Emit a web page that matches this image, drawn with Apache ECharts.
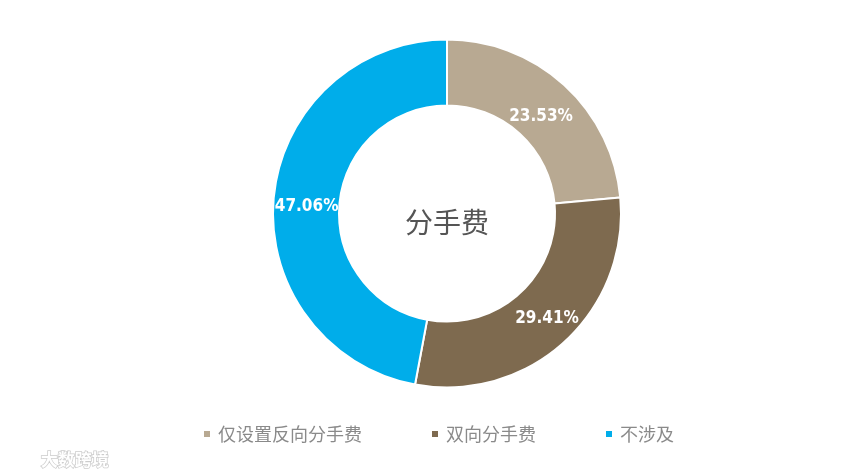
<!DOCTYPE html>
<html>
<head>
<meta charset="utf-8">
<script src="https://cdn.jsdelivr.net/npm/echarts@6/dist/echarts.min.js"></script>
<style>
html,body{margin:0;padding:0;background:#fff;}
#main{width:859px;height:476px;}
</style>
</head>
<body>
<div id="main"></div>
<script>
var categories = ['仅设置反向分手费', '双向分手费', '不涉及'];
var values = [23.53, 29.41, 47.06];
var colors = ['#B8A992', '#7E6A4F', '#00ADEA'];
var centerTitle = '分手费';
var labelOffsets = [[-3, 9], [3, -1], [3, 6]];

var chart = echarts.init(document.getElementById('main'));
chart.setOption({
  animation: false,
  color: colors,
  legend: {
    data: categories,
    left: 197,
    top: 420,
    itemWidth: 8,
    itemHeight: 8,
    itemGap: 68,
    icon: 'rect',
    textStyle: { fontSize: 18, color: '#8a8a8a', fontFamily: 'Noto Sans CJK SC', padding: [0,0,0,2] }
  },
  graphic: [{
    type: 'text',
    x: 447,
    y: 222,
    style: {
      text: centerTitle,
      fontSize: 28,
      fontFamily: 'Noto Sans CJK SC',
      fill: '#555555',
      align: 'center',
      verticalAlign: 'middle'
    }
  }, {
    type: 'text',
    left: 40,
    top: 450,
    style: {
      text: '大数跨境',
      fontSize: 17,
      fontWeight: 'bold',
      fontFamily: 'Noto Sans CJK SC',
      fill: '#ffffff',
      stroke: '#cccccc',
      lineWidth: 1.5
    }
  }],
  series: [{
    type: 'pie',
    center: [447, 213.5],
    radius: [108, 174],
    startAngle: 90,
    clockwise: true,
    avoidLabelOverlap: false,
    itemStyle: { borderColor: '#ffffff', borderWidth: 2 },
    label: {
      show: true,
      position: 'inside',
      formatter: function (p) { return p.value.toFixed(2) + '%'; },
      color: '#ffffff',
      fontSize: 17,
      fontWeight: 'bold',
      fontFamily: 'DejaVu Sans Condensed, DejaVu Sans'
    },
    labelLine: { show: false },
    data: categories.map(function (c, i) {
      return { name: c, value: values[i], label: { offset: labelOffsets[i] } };
    })
  }]
});
</script>
</body>
</html>
